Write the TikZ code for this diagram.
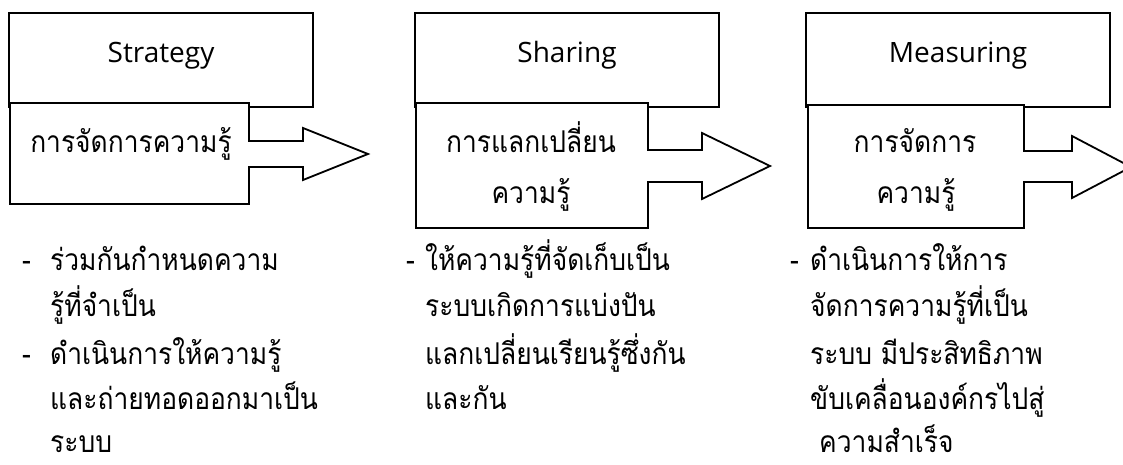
\documentclass[tikz,border=0pt]{standalone}
\usepackage{fontspec}
\setmainfont{Open Sans}
\newfontfamily\thaifont[Script=Thai,FakeStretch=0.88]{Loma}
\begin{document}
\begin{tikzpicture}[x=1pt,y=-1pt,
  panel/.style={draw=black, line width=1.8pt, fill=white, line join=miter},
  title/.style={font=\fontsize{28}{30}\selectfont, inner sep=0pt, anchor=base},
  boxtext/.style={font=\thaifont\fontsize{30}{34}\selectfont, inner sep=0pt, anchor=base},
  body/.style={font=\thaifont\fontsize{30}{34}\selectfont, inner sep=0pt, anchor=base west},
  bullet/.style={font=\thaifont\fontsize{30}{34}\selectfont, inner sep=0pt, anchor=base west}]
\useasboundingbox (0,0) rectangle (1123,465);
\clip (0,0) rectangle (1123,465);
% panel 1
\draw[panel] (9,13) rectangle (313,107);
\node[title] (t1) at (161,63) {Strategy};
\draw[panel] (10,103) -- (249,103) -- (249,141) -- (303,141) -- (303,128) -- (368,154)
  -- (303,180) -- (303,167) -- (249,167) -- (249,204) -- (10,204) -- cycle;
\node[boxtext] (b1) at (131,153) {การจัดการความรู้};
% panel 2
\draw[panel] (415,13) rectangle (719,107);
\node[title] (t2) at (567,63) {Sharing};
\draw[panel] (416,103) -- (648,103) -- (648,150) -- (702,150) -- (702,133) -- (770,166)
  -- (702,199) -- (702,182) -- (648,182) -- (648,228) -- (416,228) -- cycle;
\node[boxtext] (b2a) at (531,153) {การแลกเปลี่ยน};
\node[boxtext] (b2b) at (531,204) {ความรู้};
% panel 3
\draw[panel] (806,13) rectangle (1110,107);
\node[title] (t3) at (958,63) {Measuring};
\draw[panel] (808,105) -- (1024,105) -- (1024,151) -- (1072,151) -- (1072,136) -- (1131,167)
  -- (1072,198) -- (1072,182) -- (1024,182) -- (1024,228) -- (808,228) -- cycle;
\node[boxtext] (b3a) at (915,153) {การจัดการ};
\node[boxtext] (b3b) at (916,204) {ความรู้};
% column 1 text
\node[bullet] (d11) at (22,270) {-};
\node[body] (c11) at (50,270) {ร่วมกันกำหนดความ};
\node[body] (c12) at (50,316) {รู้ที่จำเป็น};
\node[bullet] (d12) at (22,364) {-};
\node[body] (c13) at (50,364) {ดำเนินการให้ความรู้};
\node[body] (c14) at (50,409) {และถ่ายทอดออกมาเป็น};
\node[body] (c15) at (50,452) {ระบบ};
% column 2 text
\node[bullet] (d21) at (406,270) {-};
\node[body] (c21) at (425,270) {ให้ความรู้ที่จัดเก็บเป็น};
\node[body] (c22) at (425,316) {ระบบเกิดการแบ่งปัน};
\node[body] (c23) at (425,364) {แลกเปลี่ยนเรียนรู้ซึ่งกัน};
\node[body] (c24) at (425,409) {และกัน};
% column 3 text
\node[bullet] (d31) at (790,270) {-};
\node[body] (c31) at (810,270) {ดำเนินการให้การ};
\node[body] (c32) at (810,316) {จัดการความรู้ที่เป็น};
\node[body] (c33) at (810,364) {ระบบ มีประสิทธิภาพ};
\node[body] (c34) at (810,409) {ขับเคลื่อนองค์กรไปสู่};
\node[body] (c35) at (819,452) {ความสำเร็จ};
\end{tikzpicture}
\end{document}
